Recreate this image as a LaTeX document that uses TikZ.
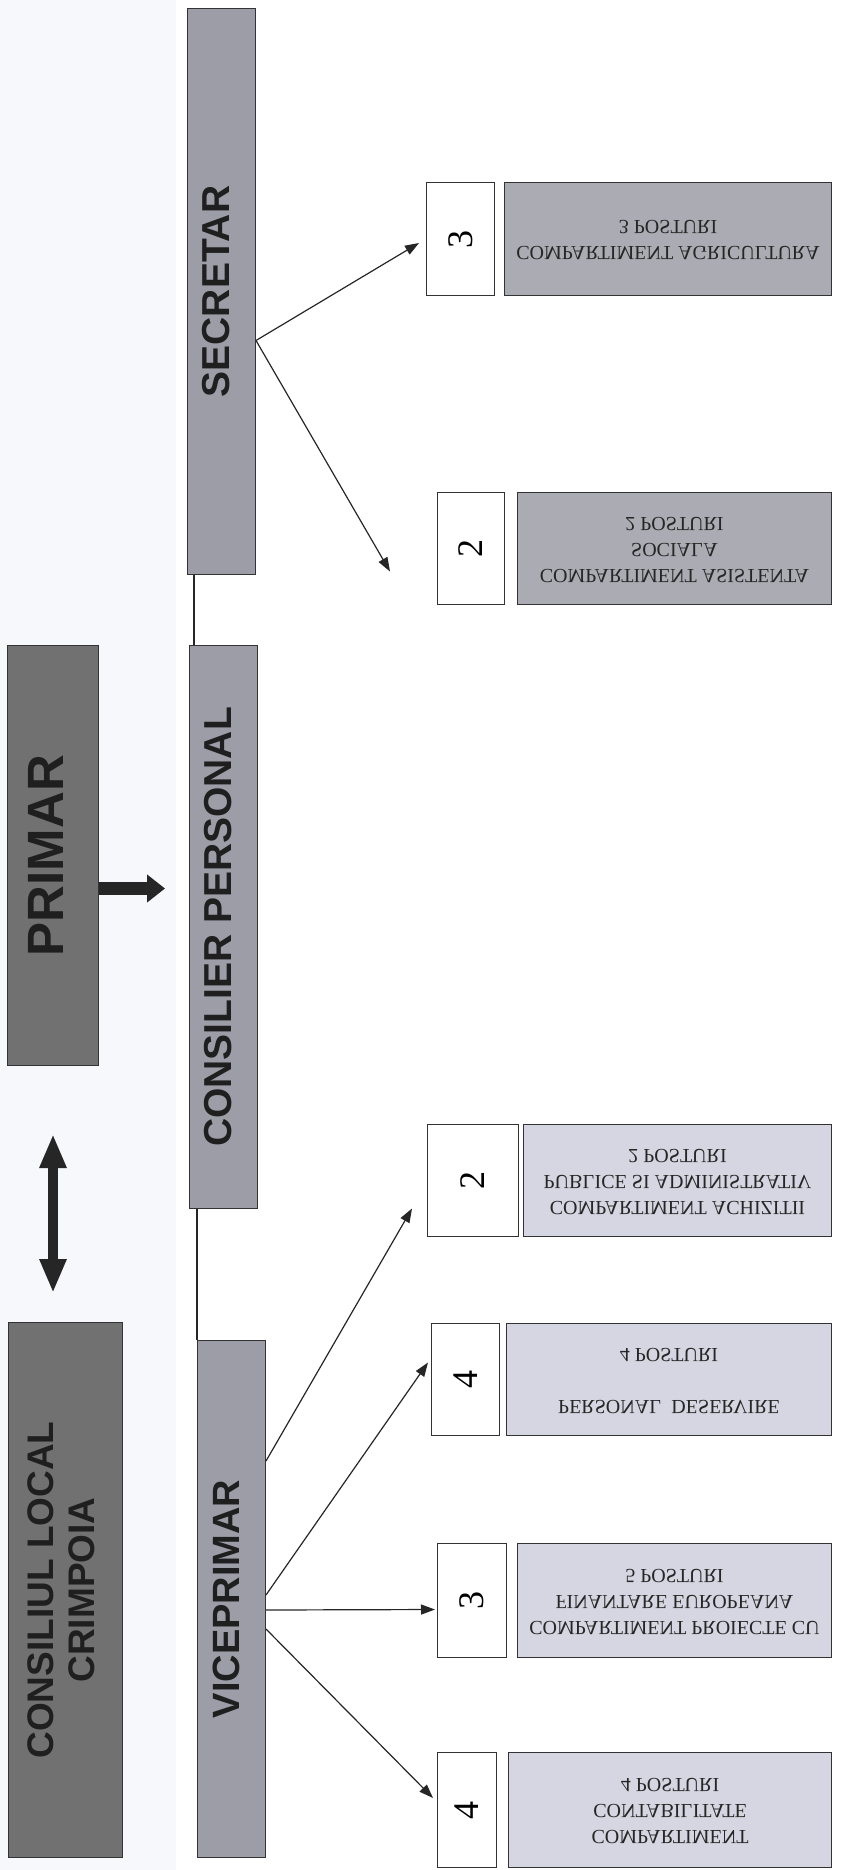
\documentclass[tikz,border=0pt]{standalone}
\usepackage{fontspec}
\setmainfont{Liberation Serif}
\setsansfont{Liberation Sans}
\usepackage{graphicx}
\usetikzlibrary{arrows.meta, positioning}
\definecolor{bgtint}{HTML}{F7F8FB}
\definecolor{topgrey}{HTML}{717171}
\definecolor{midgrey}{HTML}{9D9DA7}
\definecolor{secgrey}{HTML}{ABABB3}
\definecolor{vicegrey}{HTML}{D5D6E1}
\newcommand{\vtext}[1]{\rotatebox{90}{\begin{tabular}{@{}c@{}}#1\end{tabular}}}
\newcommand{\updown}[1]{\scalebox{1}[-1]{\begin{tabular}{@{}c@{}}#1\end{tabular}}}
\tikzstyle{head} = [rectangle, draw=black!80, line width=1pt, inner sep=0pt,
    anchor=north west, text=black!88, font=\sffamily\bfseries]
\tikzstyle{nr} = [rectangle, draw=black!80, line width=1pt, fill=white, inner sep=0pt,
    anchor=north west, font=\fontsize{36}{36}\selectfont]
\tikzstyle{dept} = [rectangle, draw=black!80, line width=1pt, inner sep=0pt,
    text=black!85, font=\fontsize{20}{26}\selectfont]
\tikzstyle{line} = [draw, line width=1.2pt, black!85, -{Triangle[length=14pt,width=10pt]}]
\tikzstyle{link} = [draw, line width=1.2pt, black!85]

\begin{document}
\begin{tikzpicture}[x=1pt, y=-1pt]
      \useasboundingbox (0,0) rectangle (858,1870);
      \fill[bgtint] (0,0) rectangle (176,1870);
      % Top level
      \node [head, fill=topgrey, minimum width=114pt, minimum height=535pt,
        font=\sffamily\bfseries\fontsize{37}{41}\selectfont] (consiliu) at (8,1322)
        {\vtext{CONSILIUL LOCAL\\CRIMPOIA}};
      \node [head, fill=topgrey, minimum width=91pt, minimum height=420pt,
        font=\sffamily\bfseries\fontsize{51}{51}\selectfont] (primar) at (7,645) {\vtext{PRIMAR}};
      % Second level
      \node [head, fill=midgrey, minimum width=68pt, minimum height=566pt,
        font=\sffamily\bfseries\fontsize{39}{39}\selectfont] (secretar) at (187,8) {\vtext{SECRETAR}};
      \node [head, fill=midgrey, minimum width=68pt, minimum height=563pt,
        font=\sffamily\bfseries\fontsize{39}{39}\selectfont] (consilier) at (189,645) {\vtext{CONSILIER PERSONAL}};
      \node [head, fill=midgrey, minimum width=68pt, minimum height=517pt,
        font=\sffamily\bfseries\fontsize{38}{38}\selectfont] (viceprimar) at (197,1340) {\vtext{VICEPRIMAR}};
      % Compartments of the secretary
      \node [nr, minimum width=68pt, minimum height=113pt] (nr-agri) at (426,182) {\rotatebox{90}{3}};
      \node [dept, fill=secgrey, right=9pt of nr-agri, minimum width=327pt, minimum height=113pt] (agri)
        {\updown{COMPARTIMENT AGRICULTURA\\3 POSTURI}};
      \node [nr, minimum width=67pt, minimum height=112pt] (nr-asist) at (437,492) {\rotatebox{90}{2}};
      \node [dept, fill=secgrey, right=12pt of nr-asist, minimum width=314pt, minimum height=112pt] (asist)
        {\updown{COMPARTIMENT ASISTENTA\\SOCIALA\\2 POSTURI}};
      % Compartments of the vice mayor
      \node [nr, minimum width=91pt, minimum height=112pt] (nr-achiz) at (427,1124) {\rotatebox{90}{2}};
      \node [dept, fill=vicegrey, right=4pt of nr-achiz, minimum width=308pt, minimum height=112pt] (achiz)
        {\updown{COMPARTIMENT ACHIZITII\\PUBLICE SI ADMINISTRATIV\\2 POSTURI}};
      \node [nr, minimum width=68pt, minimum height=112pt] (nr-deserv) at (431,1323) {\rotatebox{90}{4}};
      \node [dept, fill=vicegrey, right=6pt of nr-deserv, minimum width=325pt, minimum height=112pt] (deserv)
        {\updown{PERSONAL\ \ DESERVIRE\\ \\4 POSTURI}};
      \node [nr, minimum width=69pt, minimum height=114pt] (nr-proiect) at (437,1543) {\rotatebox{90}{3}};
      \node [dept, fill=vicegrey, right=10pt of nr-proiect, minimum width=314pt, minimum height=114pt] (proiect)
        {\updown{COMPARTIMENT PROIECTE CU\\FINANTARE EUROPEANA\\5 POSTURI}};
      \node [nr, minimum width=59pt, minimum height=115pt] (nr-contab) at (437,1752) {\rotatebox{90}{4}};
      \node [dept, fill=vicegrey, right=11pt of nr-contab, minimum width=323pt, minimum height=115pt] (contab)
        {\updown{COMPARTIMENT\\CONTABILITATE\\4 POSTURI}};
      % Draw edges
      \draw [black!85, line width=10pt, shorten <=68pt, shorten >=29pt,
        {Triangle[length=34pt,width=25pt]}-{Triangle[length=34pt,width=25pt]}]
        (primar.south) -- (primar.south |- consiliu.north);
      \draw [black!85, line width=13pt, shorten >=24pt, -{Triangle[length=18pt,width=27pt]}]
        ([yshift=-33pt]primar.east) -- ([yshift=-33pt]primar.east -| consilier.west);
      \path [link] ([xshift=7pt]secretar.south west) -- ([xshift=7pt]secretar.south west |- consilier.north);
      \path [link] (viceprimar.north west |- consilier.south) -- (viceprimar.north west);
      \path [line] ([yshift=-49pt]secretar.east) -- ([xshift=-7pt,yshift=-4pt]nr-agri.west);
      \path [line] ([yshift=-49pt]secretar.east) -- ([xshift=-47pt,yshift=-23pt]nr-asist.west);
      \path [line] ([yshift=138pt]viceprimar.east) -- ([xshift=-15pt,yshift=-28pt]nr-achiz.west);
      \path [line] ([yshift=4pt]viceprimar.east) -- ([xshift=-3pt,yshift=17pt]nr-deserv.west);
      \path [line] ([yshift=-11pt]viceprimar.east) -- ([xshift=-2pt,yshift=-9pt]nr-proiect.west);
      \path [line] ([yshift=-30pt]viceprimar.east) -- ([xshift=-4pt,yshift=12pt]nr-contab.west);
  \end{tikzpicture}
\end{document}
